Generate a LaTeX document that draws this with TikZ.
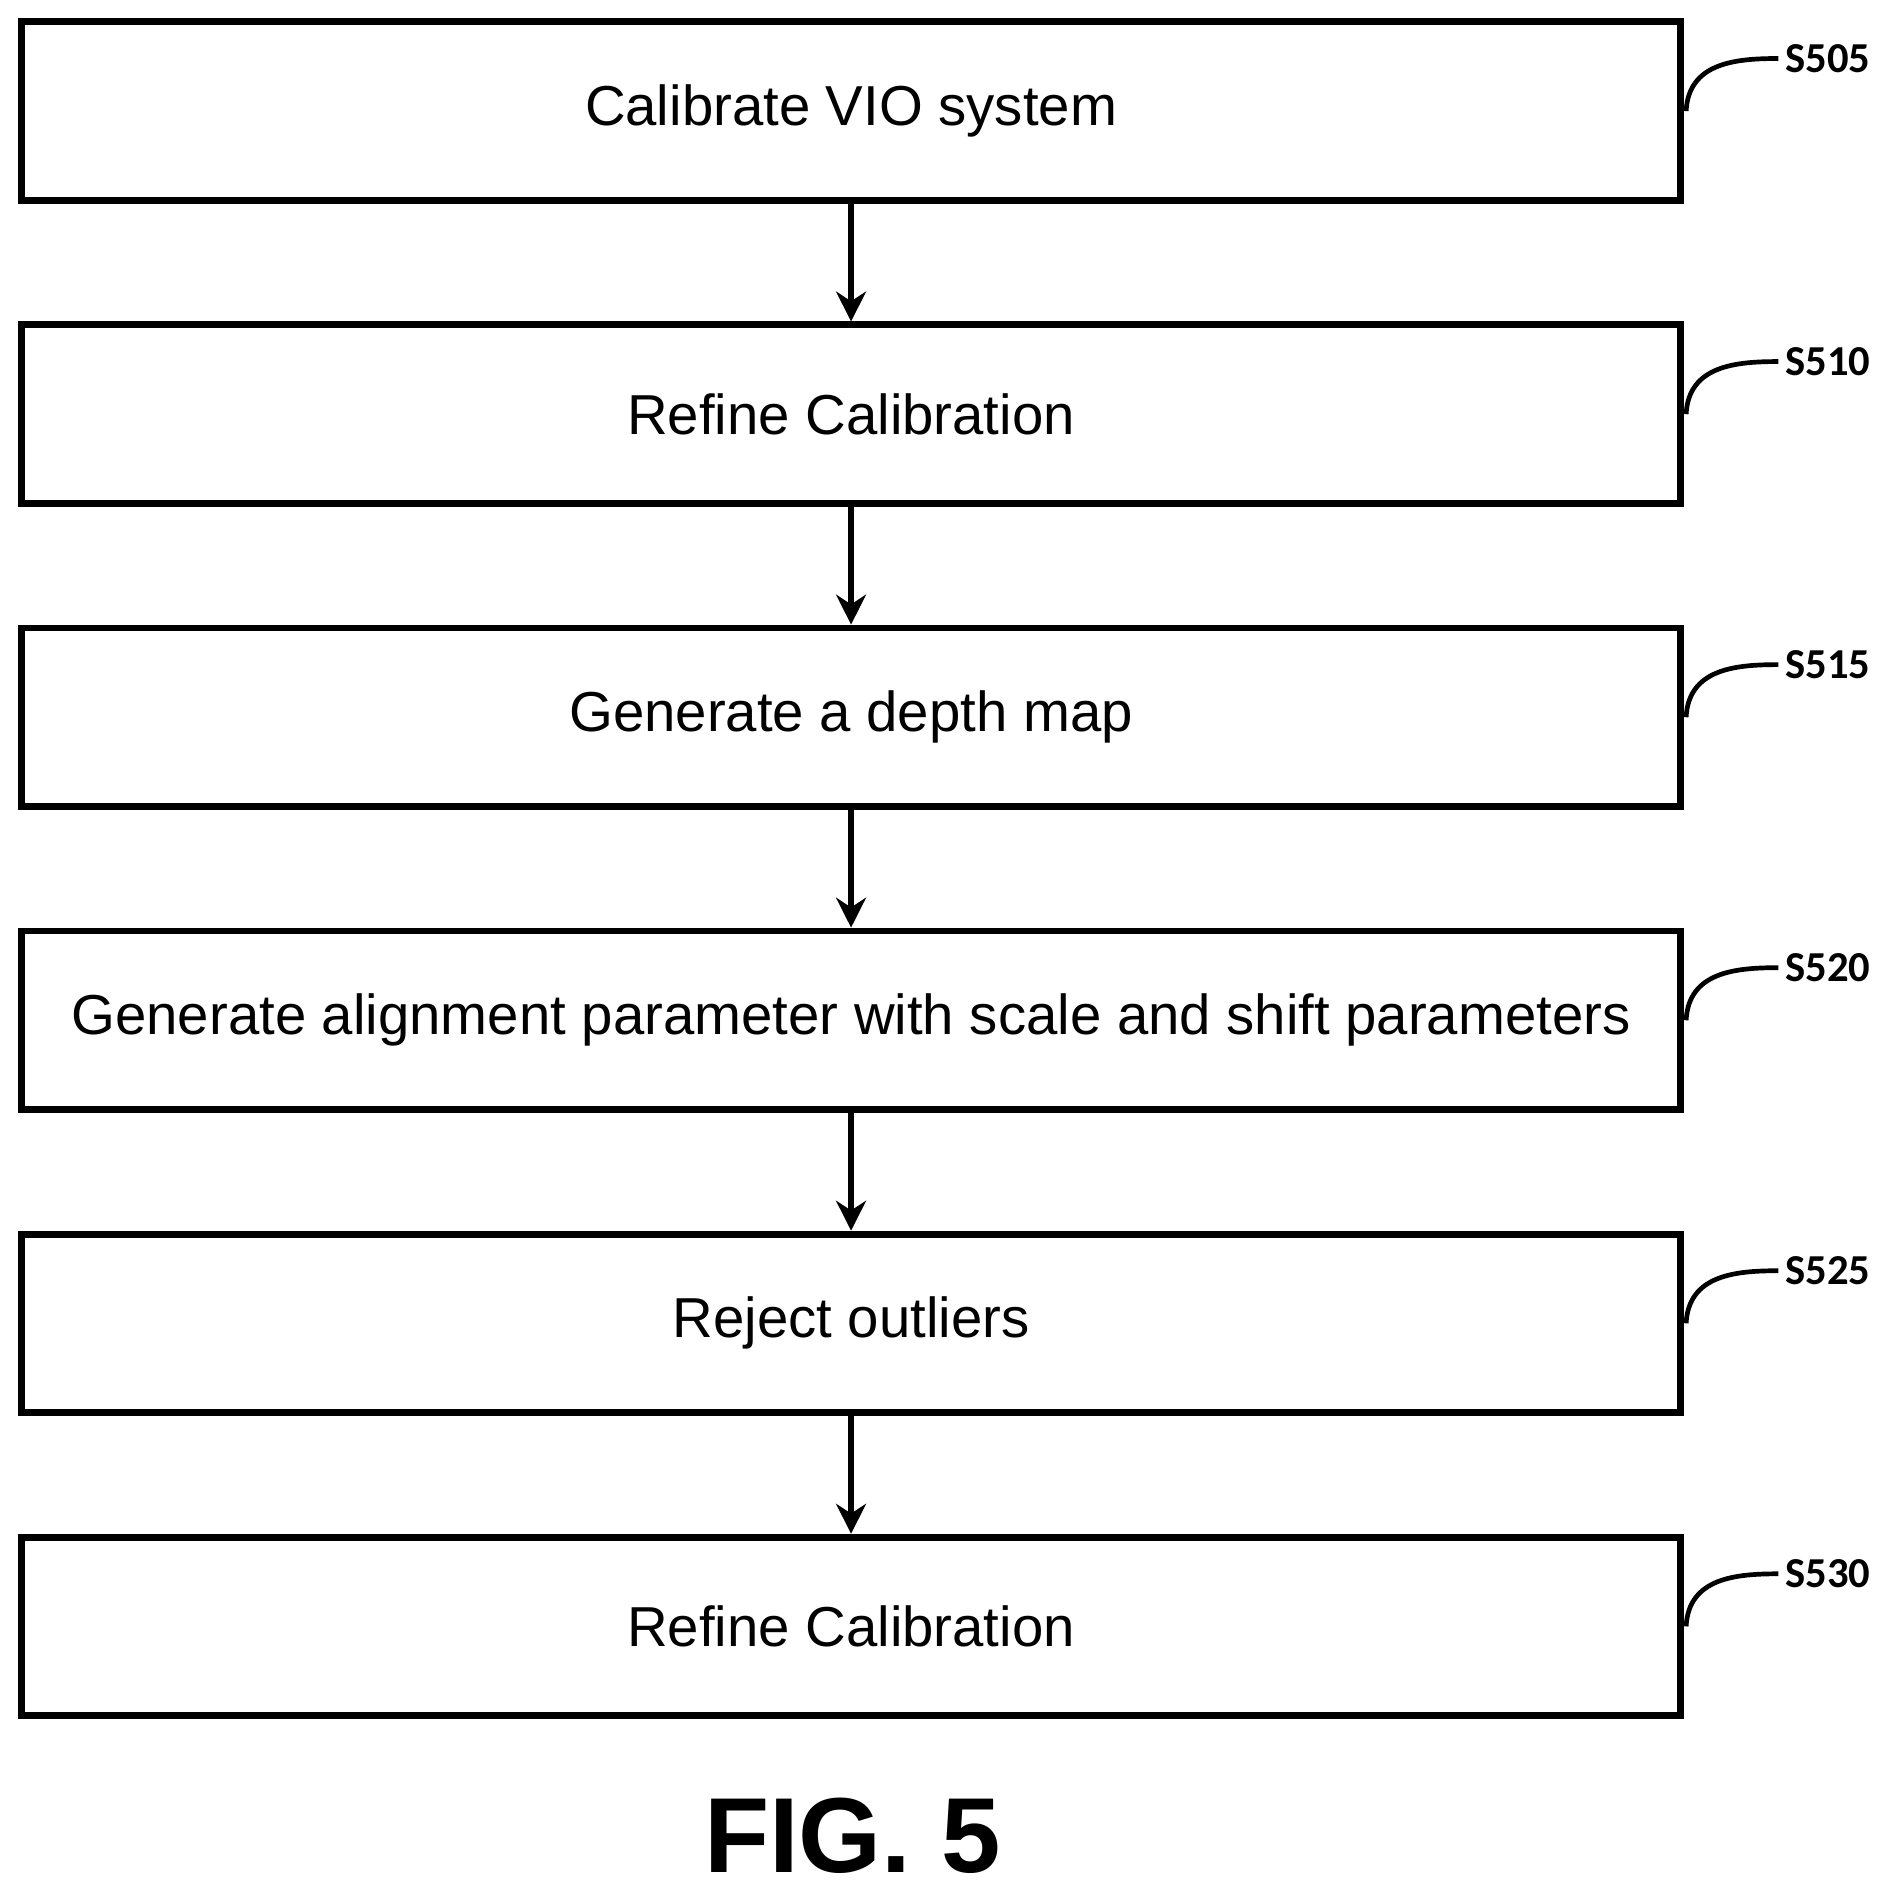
\documentclass[tikz,border=0pt]{standalone}
\usepackage{fontspec}
\setmainfont{Liberation Sans}
\newfontfamily\labelfont{Carlito}
\usetikzlibrary{positioning, calc, arrows.meta}

\tikzset{
  stage/.style={draw, line width=1.6pt, minimum width=13.66cm, minimum height=1.47cm,
    inner sep=0pt, font=\fontsize{13.2}{15}\selectfont},
  flow/.style={-{Stealth[length=7pt,width=7pt]}, line width=1.4pt},
  tag/.style={anchor=west, inner sep=0pt, font=\labelfont\bfseries\fontsize{10}{12}\selectfont},
  lead/.style={line width=1.1pt}
}

\begin{document}
\begin{tikzpicture}
        \useasboundingbox (0,0) rectangle (15.65,-15.56);

        \node[stage] (s505) at (7.01,-0.915) {Calibrate VIO system};
        \node[stage, below=0.97cm of s505] (s510) {Refine Calibration};
        \node[stage, below=0.97cm of s510] (s515) {Generate a depth map};
        \node[stage, below=0.97cm of s515] (s520) {Generate alignment parameter with scale and shift parameters};
        \node[stage, below=0.97cm of s520] (s525) {Reject outliers};
        \node[stage, below=0.97cm of s525] (s530) {Refine Calibration};

        % arrows between the stages
        \foreach \a/\b in {s505/s510, s510/s515, s515/s520, s520/s525, s525/s530}
            \draw[flow] (\a) -- (\b);

        % stage labels with their lead lines
        \foreach \s/\t in {s505/S505, s510/S510, s515/S515, s520/S520, s525/S525, s530/S530}{
            \coordinate (\s-a) at ($(\s.east)+(0.02,0)$);
            \coordinate (\s-b) at ($(\s.north east)+(0.78,-0.33)$);
            \draw[lead] (\s-a) .. controls ($(\s-a)+(0.02,0.4)$) and ($(\s-b)+(-0.35,0)$) .. (\s-b);
            \node[tag] (\s-t) at ($(\s-b)+(0.05,0)$) {\t};
        }

        \node[font=\bfseries\fontsize{25}{30}\selectfont] (fig) at (7.02,-15.12) {FIG. 5};
\end{tikzpicture}
\end{document}
